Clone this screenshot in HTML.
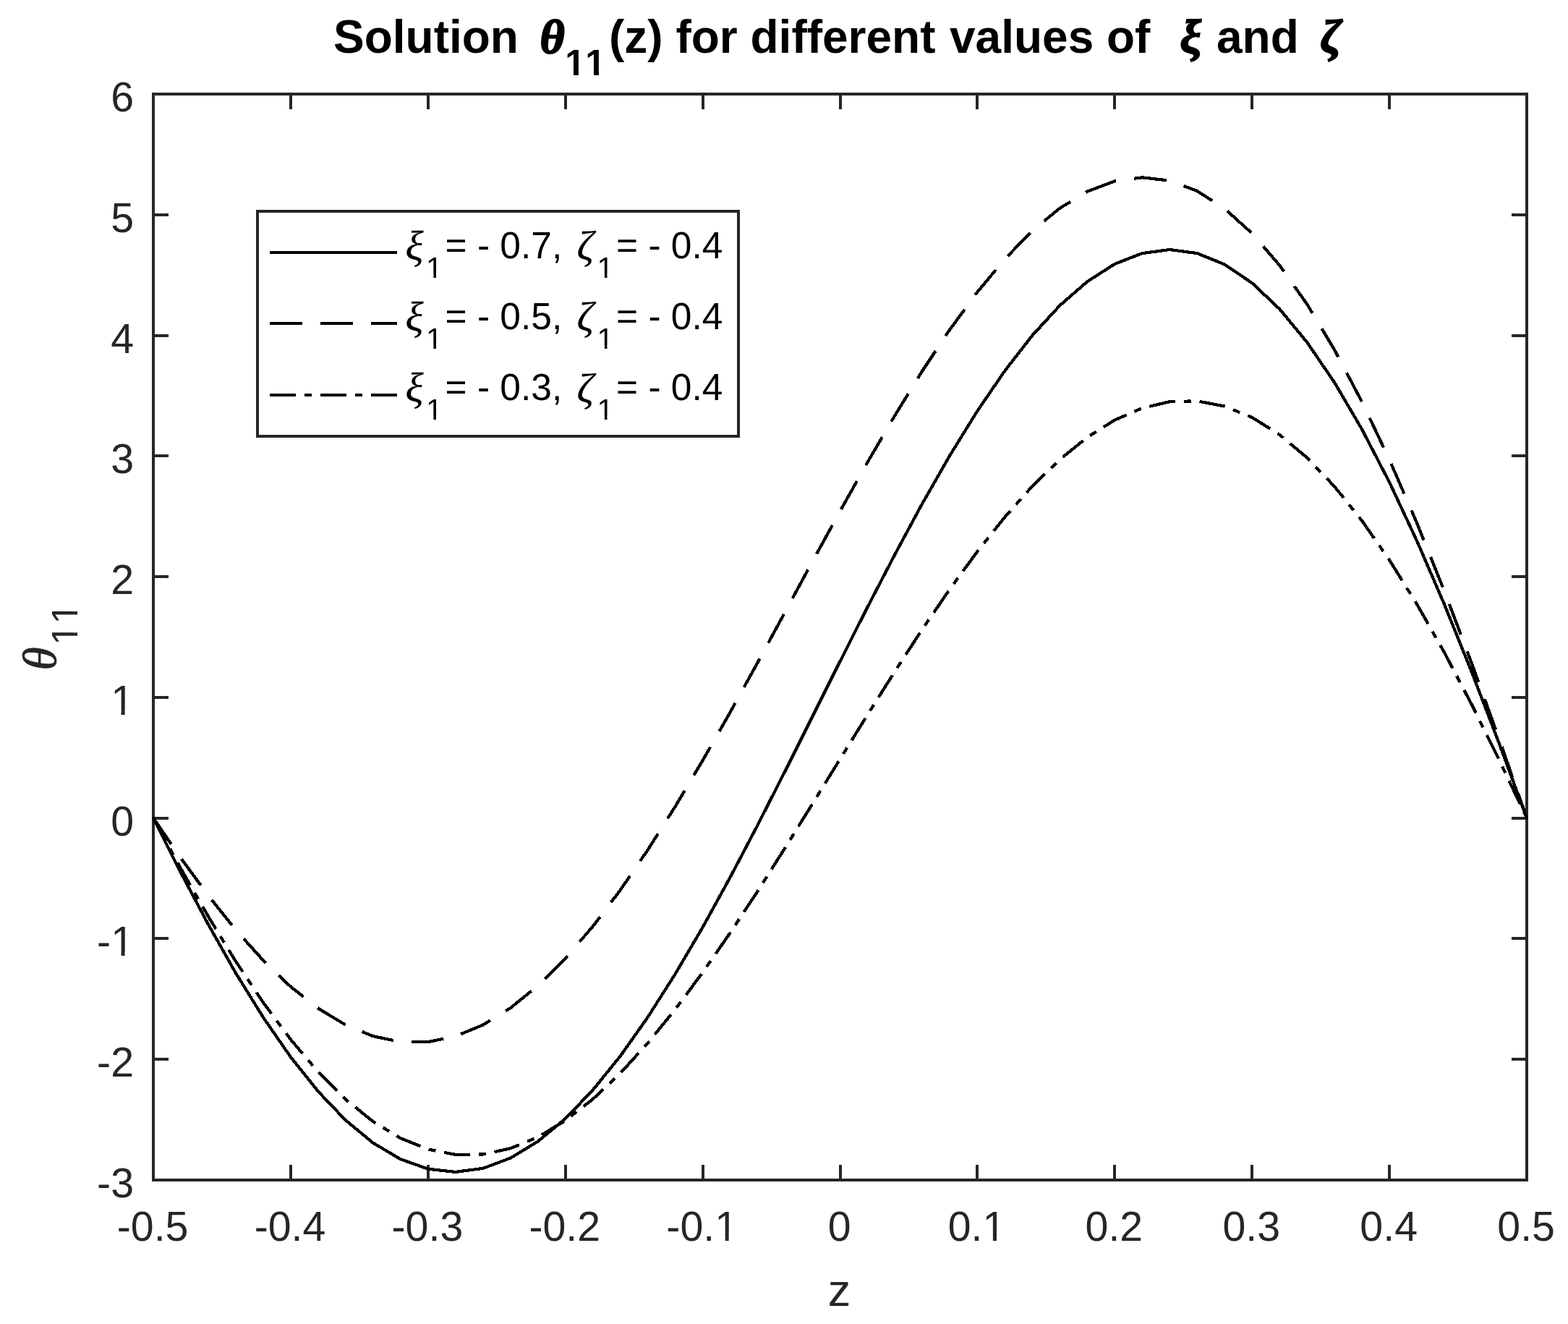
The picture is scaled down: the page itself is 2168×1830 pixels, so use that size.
<!DOCTYPE html>
<html lang="en"><head><meta charset="utf-8"><title>Solution theta11(z)</title>
<style>html,body{margin:0;padding:0;background:#fff}svg{display:block}text{font-family:'Liberation Sans', Arial, Helvetica, sans-serif;fill:#262626;font-kerning:none}.g{font-family:'Liberation Serif', 'DejaVu Serif', serif;font-style:italic}.k text{fill:#000}</style></head><body>
<svg width="2168" height="1830" viewBox="0 0 2168 1830">
<rect x="0" y="0" width="2168" height="1830" fill="#ffffff"/>
<g stroke="#262626" stroke-width="4" fill="none" shape-rendering="crispEdges">
<rect x="212.0" y="130.0" width="1899.0" height="1501.0"/>
<path d="M402 1631.0V1610.0M402 130.0V151.0M592 1631.0V1610.0M592 130.0V151.0M782 1631.0V1610.0M782 130.0V151.0M972 1631.0V1610.0M972 130.0V151.0M1162 1631.0V1610.0M1162 130.0V151.0M1351 1631.0V1610.0M1351 130.0V151.0M1541 1631.0V1610.0M1541 130.0V151.0M1731 1631.0V1610.0M1731 130.0V151.0M1921 1631.0V1610.0M1921 130.0V151.0M212.0 1464H233.0M2111.0 1464H2090.0M212.0 1297H233.0M2111.0 1297H2090.0M212.0 1131H233.0M2111.0 1131H2090.0M212.0 964H233.0M2111.0 964H2090.0M212.0 797H233.0M2111.0 797H2090.0M212.0 630H233.0M2111.0 630H2090.0M212.0 464H233.0M2111.0 464H2090.0M212.0 297H233.0M2111.0 297H2090.0"/>
</g>
<g fill="none" stroke="#000" stroke-width="4.2" stroke-linejoin="bevel" shape-rendering="crispEdges">
<polyline points="212.0,1130.7 250.0,1206.1 288.0,1277.8 325.9,1344.8 363.9,1406.1 401.9,1461.0 439.9,1508.6 477.9,1548.4 515.8,1579.7 553.8,1602.2 591.8,1615.7 629.8,1619.9 667.8,1614.9 705.7,1600.7 743.7,1577.7 781.7,1546.2 819.7,1506.6 857.7,1459.7 895.6,1406.0 933.6,1346.3 971.6,1281.6 1009.6,1212.6 1047.6,1140.3 1085.5,1065.9 1123.5,990.1 1161.5,914.2 1199.5,839.1 1237.5,766.0 1275.4,695.7 1313.4,629.4 1351.4,568.0 1389.4,512.5 1427.4,463.6 1465.3,422.3 1503.3,389.2 1541.3,364.9 1579.3,350.1 1617.3,345.0 1655.2,350.1 1693.2,365.5 1731.2,391.2 1769.2,427.1 1807.2,473.1 1845.1,528.6 1883.1,593.4 1921.1,666.6 1959.1,747.6 1997.1,835.5 2035.0,929.3 2073.0,1028.1 2111.0,1130.7" stroke-linecap="round"/>
<polyline points="212.0,1130.7 250.0,1186.0 288.0,1237.8 325.9,1285.2 363.9,1327.4 401.9,1363.8 439.9,1393.7 477.9,1416.7 515.8,1432.2 553.8,1440.1 591.8,1440.2 629.8,1432.3 667.8,1416.6 705.7,1393.3 743.7,1362.5 781.7,1324.7 819.7,1280.4 857.7,1230.2 895.6,1174.8 933.6,1114.8 971.6,1051.0 1009.6,984.4 1047.6,915.7 1085.5,845.9 1123.5,775.8 1161.5,706.6 1199.5,638.9 1237.5,573.9 1275.4,512.4 1313.4,455.4 1351.4,403.6 1389.4,357.9 1427.4,319.0 1465.3,287.8 1503.3,264.7 1541.3,250.4 1579.3,245.3 1617.3,249.7 1655.2,264.0 1693.2,288.3 1731.2,322.6 1769.2,366.7 1807.2,420.5 1845.1,483.5 1883.1,555.4 1921.1,635.4 1959.1,723.0 1997.1,817.2 2035.0,917.2 2073.0,1022.1 2111.0,1130.7" stroke-dasharray="45 25" stroke-dashoffset="1.2"/>
<polyline points="212.0,1130.7 250.0,1200.5 288.0,1266.8 325.9,1328.8 363.9,1385.7 401.9,1436.8 439.9,1481.6 477.9,1519.5 515.8,1550.2 553.8,1573.2 591.8,1588.5 629.8,1595.9 667.8,1595.5 705.7,1587.3 743.7,1571.7 781.7,1548.8 819.7,1519.2 857.7,1483.4 895.6,1441.8 933.6,1395.1 971.6,1344.1 1009.6,1289.3 1047.6,1231.7 1085.5,1171.9 1123.5,1110.8 1161.5,1049.2 1199.5,987.9 1237.5,927.7 1275.4,869.5 1313.4,814.1 1351.4,762.2 1389.4,714.6 1427.4,672.0 1465.3,635.1 1503.3,604.5 1541.3,580.6 1579.3,564.1 1617.3,555.2 1655.2,554.3 1693.2,561.5 1731.2,577.0 1769.2,600.8 1807.2,632.6 1845.1,672.4 1883.1,719.7 1921.1,774.1 1959.1,835.1 1997.1,902.0 2035.0,974.1 2073.0,1050.6 2111.0,1130.7" stroke-dasharray="36 12 10 12" stroke-dashoffset="0"/>
</g>
<g font-size="57.3" text-anchor="middle">
<text x="211.1" y="1715.3">-0.5</text>
<text x="401.0" y="1715.3">-0.4</text>
<text x="590.9" y="1715.3">-0.3</text>
<text x="780.8" y="1715.3">-0.2</text>
<text x="970.7" y="1715.3">-0.1</text>
<text x="1160.6" y="1715.3">0</text>
<text x="1350.5" y="1715.3">0.1</text>
<text x="1540.4" y="1715.3">0.2</text>
<text x="1730.3" y="1715.3">0.3</text>
<text x="1920.2" y="1715.3">0.4</text>
<text x="2110.1" y="1715.3">0.5</text>
</g>
<g font-size="57.3" text-anchor="end">
<text x="185" y="1655.0">-3</text>
<text x="185" y="1488.2">-2</text>
<text x="185" y="1321.4">-1</text>
<text x="185" y="1154.7">0</text>
<text x="185" y="987.9">1</text>
<text x="185" y="821.1">2</text>
<text x="185" y="654.3">3</text>
<text x="185" y="487.6">4</text>
<text x="185" y="320.8">5</text>
<text x="185" y="154.0">6</text>
</g>
<g fill="#fff"><rect x="991.37" y="1709.82" width="11.24" height="6.68"/><rect x="1007.67" y="1709.82" width="10.80" height="6.68"/><rect x="1361.62" y="1709.82" width="11.24" height="6.68"/><rect x="1377.93" y="1709.82" width="10.80" height="6.68"/><rect x="156.30" y="1315.96" width="11.24" height="6.68"/><rect x="172.61" y="1315.96" width="10.80" height="6.68"/><rect x="156.30" y="982.41" width="11.24" height="6.68"/><rect x="172.61" y="982.41" width="10.80" height="6.68"/></g>
<text x="1160.5" y="1805" font-size="63.0" text-anchor="middle">z</text>
<g transform="translate(76.5 926.5) rotate(-90)"><text x="0" y="0" font-size="65.5" class="g" stroke="#262626" stroke-width="0.8">θ</text><text x="35" y="30" font-size="50.5" letter-spacing="1.1">11</text><g fill="#fff"><rect x="37.65" y="25.03" width="10.05" height="6.17"/><rect x="52.16" y="25.03" width="9.66" height="6.17"/><rect x="66.83" y="25.03" width="10.05" height="6.17"/><rect x="81.35" y="25.03" width="9.66" height="6.17"/></g></g>
<g class="k" font-weight="bold" font-size="64">
<text x="461" y="72.6">Solution</text>
<text x="746.5" y="72.6" class="g" font-size="66" stroke="#000" stroke-width="2">θ</text>
<text x="781.3" y="103.7" font-size="50.3">11</text>
<text x="842" y="72.6">(z) for</text>
<text x="1037.5" y="72.6">different</text>
<text x="1313" y="72.6">values</text>
<text x="1530" y="72.6">of</text>
<text x="1631.5" y="72.6" class="g" font-size="66" stroke="#000" stroke-width="2">ξ</text>
<text x="1682" y="72.6">and</text>
<text x="1825.5" y="72.6" class="g" font-size="66" stroke="#000" stroke-width="2">ζ</text>
</g>
<g fill="#fff"><rect x="783.27" y="97.37" width="9.77" height="7.53"/><rect x="799.94" y="97.37" width="9.13" height="7.53"/><rect x="811.24" y="97.37" width="9.77" height="7.53"/><rect x="827.92" y="97.37" width="9.13" height="7.53"/></g>
<rect x="356" y="292" width="665" height="311" fill="#fff" stroke="#262626" stroke-width="4" shape-rendering="crispEdges"/>
<g stroke="#000" stroke-width="4.2" fill="none" shape-rendering="crispEdges">
<path d="M373 349H549"/>
<path d="M373 447H549" stroke-dasharray="45 25"/>
<path d="M373 546H549" stroke-dasharray="36 12 10 12"/>
</g>
<g class="k" font-size="51.5">
<text x="560.5" y="358.5" class="g" font-size="58" stroke="#000" stroke-width="0.3">ξ</text>
<text x="589" y="383.5" font-size="41.2">1</text>
<text x="615.5" y="356.5">= - 0.7,</text>
<text x="797.5" y="359.0" class="g" font-size="58" stroke="#000" stroke-width="0.3">ζ</text>
<text x="825.5" y="383.5" font-size="41.2">1</text>
<text x="852" y="356.5">= - 0.4</text>
<text x="560.5" y="456.5" class="g" font-size="58" stroke="#000" stroke-width="0.3">ξ</text>
<text x="589" y="481.5" font-size="41.2">1</text>
<text x="615.5" y="454.5">= - 0.5,</text>
<text x="797.5" y="457.0" class="g" font-size="58" stroke="#000" stroke-width="0.3">ζ</text>
<text x="825.5" y="481.5" font-size="41.2">1</text>
<text x="852" y="454.5">= - 0.4</text>
<text x="560.5" y="555" class="g" font-size="58" stroke="#000" stroke-width="0.3">ξ</text>
<text x="589" y="580" font-size="41.2">1</text>
<text x="615.5" y="553">= - 0.3,</text>
<text x="797.5" y="555.5" class="g" font-size="58" stroke="#000" stroke-width="0.3">ζ</text>
<text x="825.5" y="580" font-size="41.2">1</text>
<text x="852" y="553">= - 0.4</text>
</g>
<g fill="#fff"><rect x="590.94" y="379.22" width="8.42" height="5.48"/><rect x="603.00" y="379.22" width="8.10" height="5.48"/><rect x="827.44" y="379.22" width="8.42" height="5.48"/><rect x="839.50" y="379.22" width="8.10" height="5.48"/><rect x="590.94" y="477.22" width="8.42" height="5.48"/><rect x="603.00" y="477.22" width="8.10" height="5.48"/><rect x="827.44" y="477.22" width="8.42" height="5.48"/><rect x="839.50" y="477.22" width="8.10" height="5.48"/><rect x="590.94" y="575.72" width="8.42" height="5.48"/><rect x="603.00" y="575.72" width="8.10" height="5.48"/><rect x="827.44" y="575.72" width="8.42" height="5.48"/><rect x="839.50" y="575.72" width="8.10" height="5.48"/></g>
</svg></body></html>
